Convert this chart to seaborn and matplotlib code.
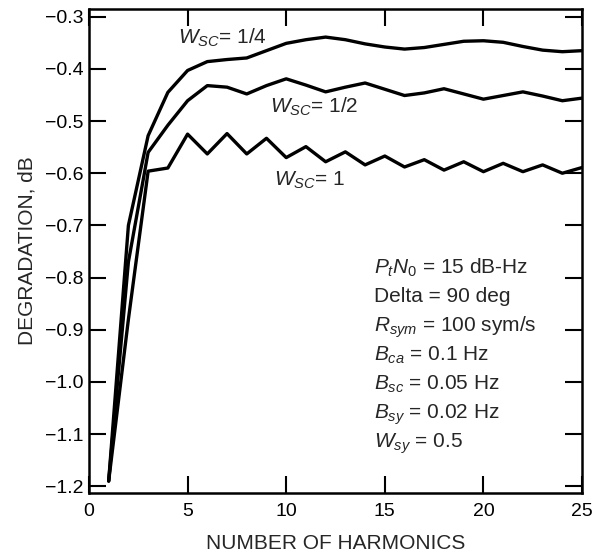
import numpy as np
import pandas as pd
import matplotlib
matplotlib.use("Agg")
import matplotlib.pyplot as plt
import seaborn as sns

# values
harmonics = list(range(1, 26))
w_quarter = [-1.19, -0.70, -0.528, -0.445, -0.403, -0.386, -0.382, -0.379, -0.365, -0.351,
             -0.344, -0.339, -0.344, -0.352, -0.358, -0.362, -0.359, -0.353, -0.347, -0.346,
             -0.349, -0.357, -0.364, -0.367, -0.365]
w_half = [-1.19, -0.77, -0.560, -0.508, -0.461, -0.432, -0.435, -0.448, -0.432, -0.419,
          -0.431, -0.444, -0.435, -0.427, -0.439, -0.451, -0.446, -0.438, -0.448, -0.458,
          -0.451, -0.444, -0.452, -0.461, -0.456]
w_one = [-1.19, -0.88, -0.596, -0.590, -0.525, -0.563, -0.524, -0.563, -0.533, -0.570,
         -0.549, -0.578, -0.559, -0.584, -0.567, -0.588, -0.574, -0.594, -0.578, -0.597,
         -0.581, -0.597, -0.584, -0.600, -0.589]

curve_labels = [r"$W_{SC}$= 1/4", r"$W_{SC}$= 1/2", r"$W_{SC}$= 1"]
params = [r"$P_tN_0$ = 15 dB-Hz", "Delta = 90 deg", r"$R_{sym}$ = 100 sym/s",
          r"$B_{ca}$ = 0.1 Hz", r"$B_{sc}$ = 0.05 Hz", r"$B_{sy}$ = 0.02 Hz",
          r"$W_{sy}$ = 0.5"]
x_ticks = [0, 5, 10, 15, 20, 25]
y_ticks = [-1.2, -1.1, -1.0, -0.9, -0.8, -0.7, -0.6, -0.5, -0.4, -0.3]

sns.set_style("ticks")
plt.rcParams["font.family"] = ["Liberation Sans", "DejaVu Sans"]
plt.rcParams["mathtext.fontset"] = "custom"
plt.rcParams["mathtext.rm"] = "Liberation Sans"
plt.rcParams["mathtext.it"] = "Liberation Sans:italic"
plt.rcParams["mathtext.bf"] = "Liberation Sans:bold"

df = pd.concat([
    pd.DataFrame({"harmonics": harmonics, "degradation": vals, "wsc": name})
    for name, vals in zip(["1/4", "1/2", "1"], [w_quarter, w_half, w_one])
])

fig = plt.figure(figsize=(5.97, 5.58), dpi=100)
ax = fig.add_axes([0.149, 0.1165, 0.826, 0.8675])
sns.lineplot(data=df, x="harmonics", y="degradation", hue="wsc",
             palette=["black"] * 3, linewidth=2.4, legend=False,
             estimator=None, ax=ax)

ax.set_xlim(0, 25)
ax.set_ylim(-1.213, -0.285)
ax.set_xticks(x_ticks)
ax.set_xticklabels([str(t) for t in x_ticks])
ax.set_yticks(y_ticks)
ax.set_yticklabels([f"{t:.1f}".replace("-", "\u2212") for t in y_ticks])
ax.tick_params(direction="in", length=12, width=1.5, top=True, right=True,
               labelsize=14, colors="black")
ax.tick_params(axis="y", pad=4)
ax.tick_params(axis="x", pad=7)
for s in ax.spines.values():
    s.set_linewidth(1.8)
    s.set_color("black")

ax.set_xlabel("NUMBER OF HARMONICS", fontsize=15, labelpad=10)
ax.set_ylabel("DEGRADATION, dB", fontsize=15, labelpad=6)

# curve labels
ax.text(4.5, -0.352, curve_labels[0], fontsize=15)
ax.text(9.2, -0.483, curve_labels[1], fontsize=15)
ax.text(9.4, -0.623, curve_labels[2], fontsize=15)

# parameter block
for i, p in enumerate(params):
    ax.text(14.45, -0.792 - i * 0.0558, p, fontsize=15)

fig.savefig("out.png", dpi=100)
